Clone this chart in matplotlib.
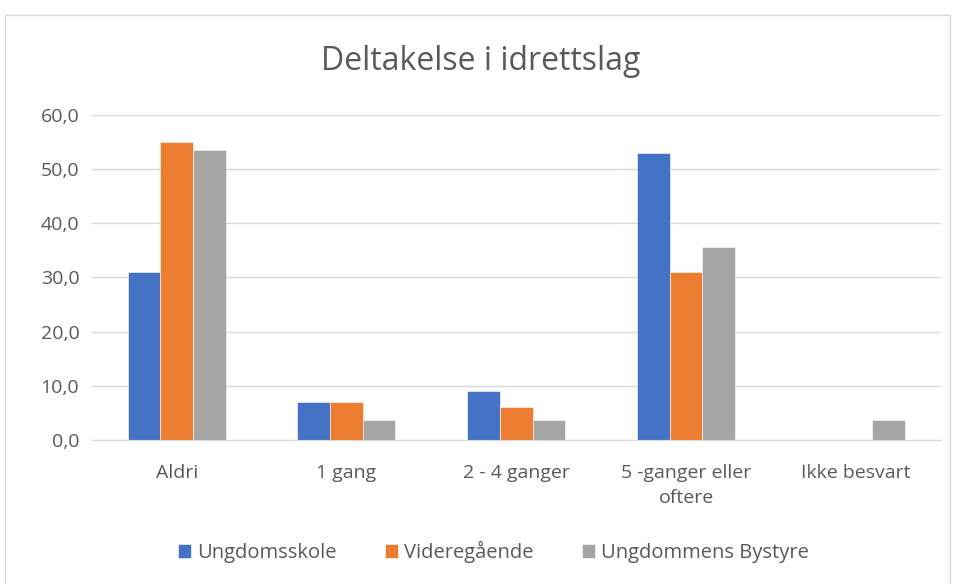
import numpy as np
import matplotlib.pyplot as plt
from matplotlib.patches import Rectangle
from matplotlib.ticker import FuncFormatter

categories = ["Aldri", "1 gang", "2 - 4 ganger", "5 -ganger eller\noftere", "Ikke besvart"]
ungdomsskole = [31.0, 7.0, 9.0, 53.0, 0.0]
videregaende = [55.0, 7.0, 6.0, 31.0, 0.0]
bystyre = [53.6, 3.6, 3.6, 35.7, 3.6]
series = [("Ungdomsskole", ungdomsskole, "#4472c4"),
          ("Videregående", videregaende, "#ed7d31"),
          ("Ungdommens Bystyre", bystyre, "#a5a5a5")]

plt.rcParams['font.family'] = ['Open Sans', 'DejaVu Sans']
text_col = "#595959"

fig = plt.figure(figsize=(9.62, 5.84), dpi=100)
fig.patches.append(Rectangle((5 / 962, -0.01), 945 / 962, 1 - 15 / 584 + 0.01,
                             transform=fig.transFigure, fill=False,
                             edgecolor="#d9d9d9", linewidth=1))
ax = fig.add_axes([0.0954, 0.2466, 0.8825, 0.5565])

x = np.arange(len(categories))
w = 0.1924
for i, (name, vals, col) in enumerate(series):
    ax.bar(x + (i - 1) * w, vals, w, color=col, label=name, zorder=3,
           edgecolor="white", linewidth=0.4)

ax.set_xlim(-0.5, len(categories) - 0.5)
ax.set_ylim(0, 60)
ax.set_yticks(np.arange(0, 61, 10))
ax.yaxis.set_major_formatter(FuncFormatter(lambda v, p: f"{v:.1f}".replace(".", ",")))
ax.grid(axis="y", color="#d9d9d9", linewidth=1, zorder=0)
for s in ["top", "right", "left"]:
    ax.spines[s].set_visible(False)
ax.spines["bottom"].set_color("#d9d9d9")
ax.spines["bottom"].set_zorder(4)
ax.set_xticks(x)
ax.set_xticklabels(categories, linespacing=1.55)
ax.tick_params(axis="both", length=0, labelsize=14, colors=text_col)
ax.tick_params(axis="x", pad=17)
ax.tick_params(axis="y", pad=9)

fig.text(0.5, 1 - 62 / 584, "Deltakelse i idrettslag", ha="center", va="center",
         fontsize=23, color=text_col)
fig.legend(loc="center", bbox_to_anchor=(0.513, 1 - 552 / 584), ncol=3, frameon=False,
           fontsize=14.5, labelcolor=text_col, handlelength=0.65, handleheight=0.65,
           handletextpad=0.3, columnspacing=2.4)

fig.savefig("out.png", dpi=100)
